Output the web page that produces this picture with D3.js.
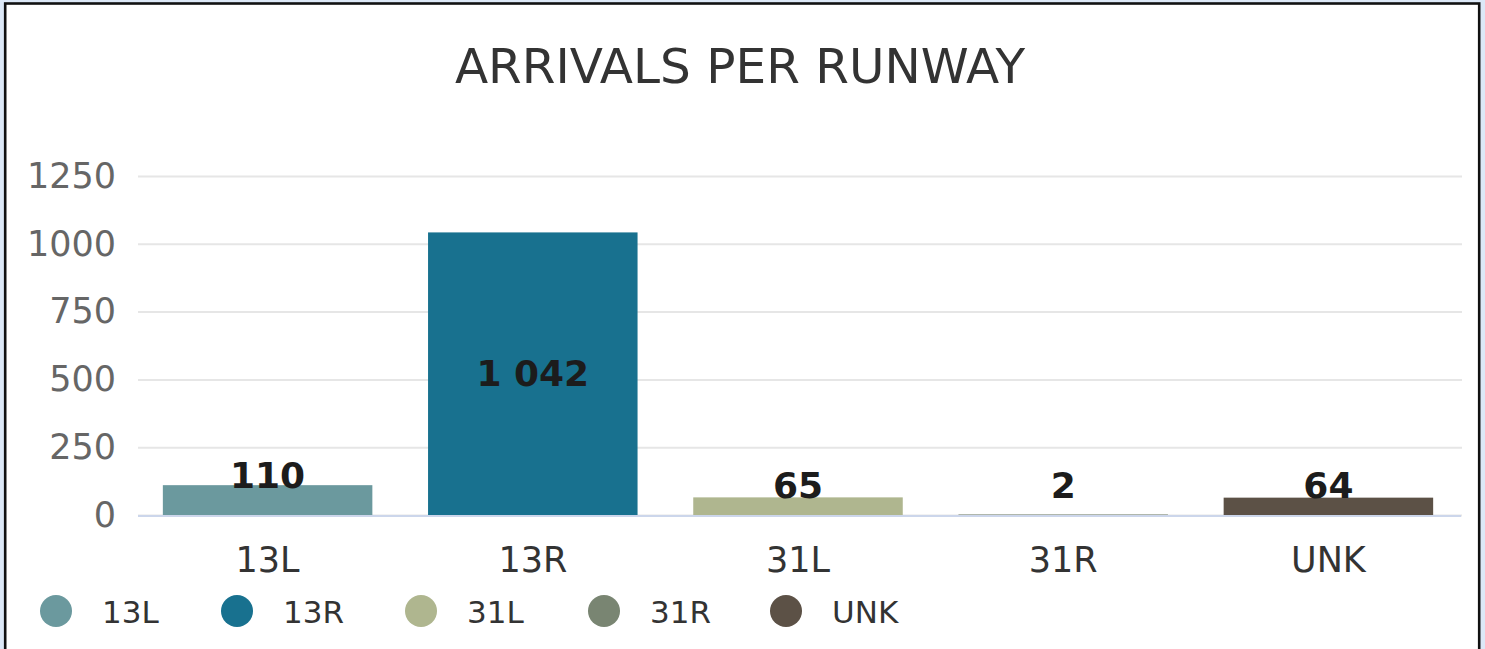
<!DOCTYPE html>
<html>
<head>
<meta charset="utf-8">
<script src="https://cdn.jsdelivr.net/npm/d3@7/dist/d3.min.js"></script>
<style>
  html, body { margin: 0; padding: 0; background: #dce8f7; }
  svg { display: block; font-family: "DejaVu Sans", sans-serif; }
</style>
</head>
<body>
<div id="chart"></div>
<script>
// runway arrivals, values
const runways = ["13L", "13R", "31L", "31R", "UNK"];
const arrivals = [110, 1042, 65, 2, 64];
const runway_colors = ["#6b999e", "#18718f", "#afb68f", "#798572", "#5c5146"];
const y_ticks = [0, 250, 500, 750, 1000, 1250];

const width = 1485, height = 649;
const plot = { left: 135, right: 1461, top: 176, bottom: 515 };

const svg = d3.select("#chart")
    .append("svg")
    .attr("width", width)
    .attr("height", height);

// white card with dark frame
svg.append("rect")
    .attr("x", 5.2).attr("y", 3.5)
    .attr("width", 1474).attr("height", 660)
    .attr("fill", "#fff")
    .attr("stroke", "#111")
    .attr("stroke-width", 2.6);

svg.append("text")
    .attr("x", 740)
    .attr("y", 83)
    .attr("text-anchor", "middle")
    .style("font-size", "48.5px")
    .style("fill", "#333")
    .text("ARRIVALS PER RUNWAY");

const x = d3.scaleBand()
    .domain(runways)
    .range([plot.left, plot.right])
    .paddingInner(0.21)
    .paddingOuter(0.105);

const y = d3.scaleLinear()
    .domain([0, 1250])
    .range([plot.bottom, plot.top]);

// gridlines + y labels
const y_axis = svg.append("g")
    .attr("transform", `translate(${plot.left + 3},0)`)
    .call(d3.axisLeft(y).tickValues(y_ticks).tickFormat(d3.format("d"))
        .tickSize(-(plot.right - plot.left - 2)).tickPadding(22));
y_axis.select(".domain").remove();
y_axis.selectAll(".tick line").attr("stroke", "#e6e6e6").attr("stroke-width", 2);
y_axis.selectAll(".tick text")
    .style("font-size", "35px")
    .style("fill", "#666")
    .style("font-family", "DejaVu Sans, sans-serif");

const data = runways.map((r, i) => ({ runway: r, value: arrivals[i], color: runway_colors[i] }));

svg.append("g")
    .selectAll("rect")
    .data(data)
    .enter()
    .append("rect")
    .attr("x", d => x(d.runway))
    .attr("y", d => y(d.value))
    .attr("width", x.bandwidth())
    .attr("height", d => y(0) - y(d.value))
    .attr("fill", d => d.color);

// baseline
svg.append("line")
    .attr("x1", plot.left + 3).attr("x2", plot.right)
    .attr("y1", plot.bottom + 1).attr("y2", plot.bottom + 1)
    .attr("stroke", "#ccd6eb")
    .attr("stroke-width", 2);

// x labels
const x_axis = svg.append("g")
    .attr("transform", `translate(0,${plot.bottom})`)
    .call(d3.axisBottom(x).tickSize(0).tickPadding(32));
x_axis.select(".domain").remove();
x_axis.selectAll(".tick text")
    .style("font-size", "35px")
    .style("fill", "#333")
    .style("font-family", "DejaVu Sans, sans-serif");

// value labels, space as thousands separator
const fmt = v => d3.format(",")(v).replace(/,/g, " ");
svg.append("g")
    .selectAll("text")
    .data(data)
    .enter()
    .append("text")
    .attr("x", d => x(d.runway) + x.bandwidth() / 2)
    .attr("y", d => {
        const h = y(0) - y(d.value);
        if (h > 80) return (y(d.value) + y(0)) / 2 + 12;
        return Math.min(y(d.value) + 3, y(0) - 17);
    })
    .attr("text-anchor", "middle")
    .style("font-size", "36px")
    .style("font-weight", "bold")
    .style("fill", "#1c1c1c")
    .text(d => fmt(d.value));

// legend
const legend_x = [56, 237, 421, 604, 786];
const legend = svg.append("g")
    .selectAll("g")
    .data(data)
    .enter()
    .append("g")
    .attr("transform", (d, i) => `translate(${legend_x[i]},611)`);
legend.append("circle")
    .attr("r", 16)
    .attr("fill", d => d.color);
legend.append("text")
    .attr("x", 46)
    .attr("y", 12)
    .style("font-size", "31px")
    .style("fill", "#333")
    .text(d => d.runway);
</script>
</body>
</html>
